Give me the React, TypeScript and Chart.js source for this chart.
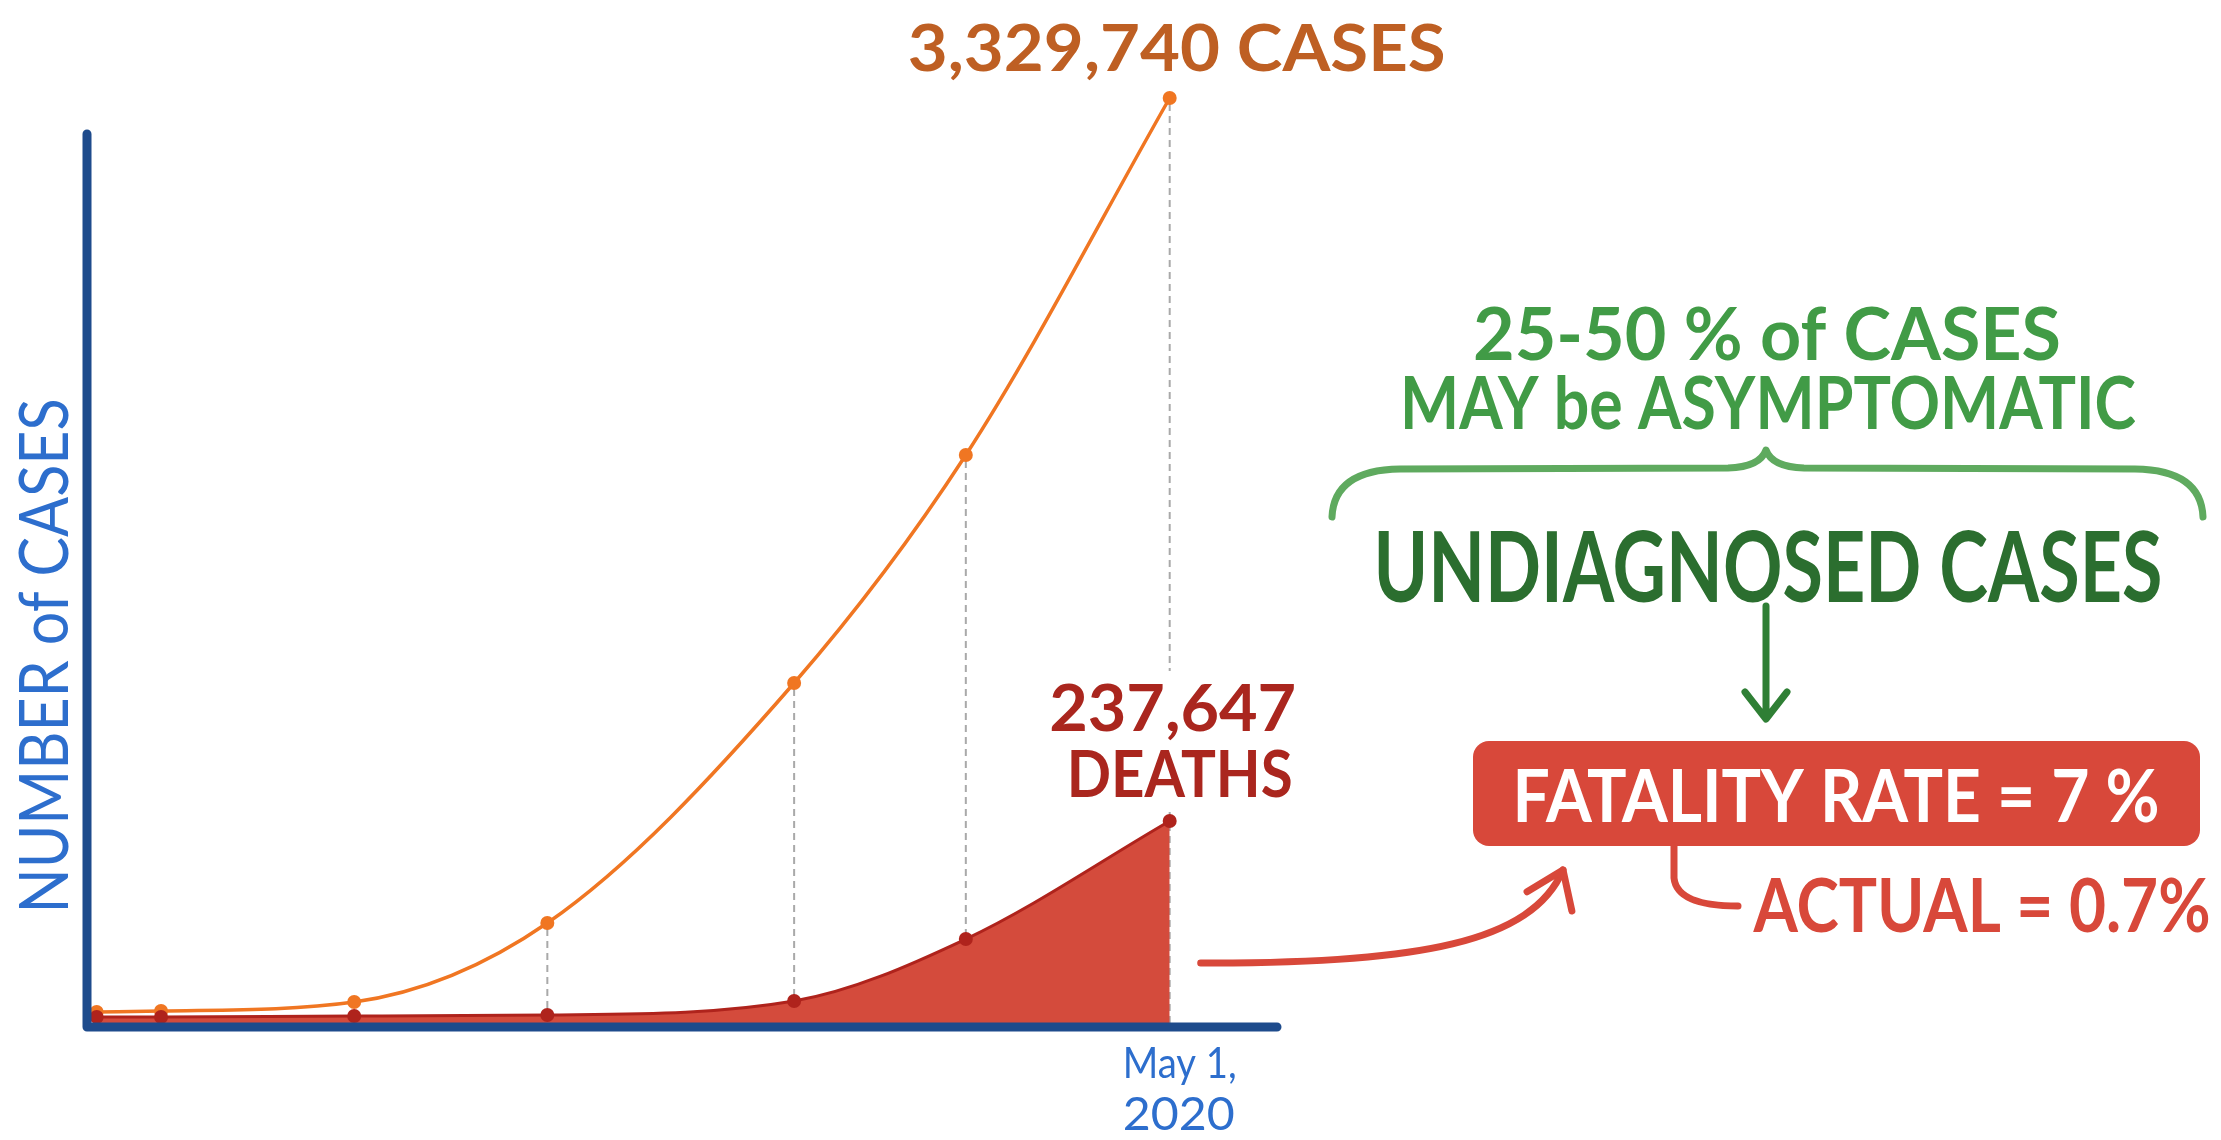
import { useEffect, useRef } from "react";
import { Chart, registerables } from "chart.js";

Chart.register(...registerables);

// ---- data ----
const dayIndex = [0, 6, 24, 42, 65, 81, 100];
const casesValues = [39600, 43200, 75600, 360000, 1223900, 2044600, 3329740];
const deathsValues = [7060, 7060, 8240, 9410, 25900, 98800, 237647];
const xTickValues = [100];
const xTickLabels: Record<number, string[]> = { 100: ["May 1,", "2020"] };
const casesLabel = "3,329,740 CASES";
const deathsLabelLines = ["237,647", "DEATHS"];
const yAxisTitle = "NUMBER of CASES";
const noteLines = ["25-50 % of CASES", "MAY be ASYMPTOMATIC"];
const undiagnosedText = "UNDIAGNOSED CASES";
const fatalityText = "FATALITY RATE = 7 %";
const actualText = "ACTUAL = 0.7%";
const casesMax = 3329740;
const deathsAxisMax = 1088240;
const xMin = -0.9;
const xMax = 110;

const W = 2221;
const H = 1140;
const FONT = "Lato";

const C = {
  axis: "#1e4b8c",
  orange: "#f07622",
  orangeLabel: "#be5f23",
  fill: "#d44b3c",
  redLine: "#af231c",
  redLabel: "#aa261e",
  box: "#d8483a",
  green: "#419b46",
  darkGreen: "#2b6e2f",
  brace: "#5faa5f",
  arrowGreen: "#2f7f35",
  blue: "#2d6ecd",
  dash: "#a9a9a9",
};

function drawFitted(
  ctx: CanvasRenderingContext2D,
  text: string,
  cx: number,
  baseline: number,
  capH: number,
  width: number,
  weight: number,
  color: string,
  rotate = 0
) {
  const size = capH / 0.716;
  ctx.save();
  ctx.font = `${weight} ${size}px ${FONT}`;
  const w = ctx.measureText(text).width;
  const sx = width / w;
  ctx.translate(cx, baseline);
  if (rotate) ctx.rotate(rotate);
  ctx.scale(sx, 1);
  ctx.fillStyle = color;
  ctx.textAlign = "center";
  ctx.textBaseline = "alphabetic";
  ctx.fillText(text, 0, 0);
  ctx.restore();
}

const guidePlugin = {
  id: "guides",
  beforeDatasetsDraw(chart: any) {
    const { ctx } = chart;
    const xs = chart.scales.x;
    const ys = chart.scales.y;
    ctx.save();
    ctx.strokeStyle = C.dash;
    ctx.lineWidth = 2;
    ctx.setLineDash([7, 5]);
    for (let i = 3; i < dayIndex.length; i++) {
      const x = xs.getPixelForValue(dayIndex[i]);
      ctx.beginPath();
      ctx.moveTo(x, ys.getPixelForValue(casesValues[i]) + 6);
      ctx.lineTo(x, ys.getPixelForValue(0));
      ctx.stroke();
    }
    ctx.restore();
  },
  afterDatasetsDraw(chart: any) {
    const { ctx, chartArea } = chart;
    const xs = chart.scales.x;
    const ys = chart.scales.y;
    const y2 = chart.scales.y2;
    const last = dayIndex.length - 1;
    const lx = xs.getPixelForValue(dayIndex[last]);
    const topY = ys.getPixelForValue(casesValues[last]);
    const deathY = y2.getPixelForValue(deathsValues[last]);

    // axes
    ctx.save();
    ctx.strokeStyle = C.axis;
    ctx.lineWidth = 9;
    ctx.lineCap = "round";
    ctx.lineJoin = "round";
    ctx.beginPath();
    ctx.moveTo(chartArea.left, 134);
    ctx.lineTo(chartArea.left, chartArea.bottom + 4);
    ctx.lineTo(chartArea.right, chartArea.bottom + 4);
    ctx.stroke();
    ctx.restore();

    // x tick labels (positioned by the x scale)
    xTickValues.forEach((v) => {
      const px = xs.getPixelForValue(v);
      const lines = xTickLabels[v];
      drawFitted(ctx, lines[0], px + 10, chartArea.bottom + 55, 31, 114, 400, C.blue);
      drawFitted(ctx, lines[1], px + 9, chartArea.bottom + 107, 33, 112, 400, C.blue);
    });

    // y-axis title
    drawFitted(ctx, yAxisTitle, 68, 656, 49, 515, 400, C.blue, -Math.PI / 2);

    // cases label
    drawFitted(ctx, casesLabel, lx + 7, topY - 27, 47, 538, 700, C.orangeLabel);

    // deaths label with white backing
    ctx.save();
    ctx.fillStyle = "#ffffff";
    ctx.fillRect(lx - 128, deathY - 150, 262, 136);
    ctx.restore();
    drawFitted(ctx, deathsLabelLines[0], lx + 3, deathY - 90, 47, 247, 700, C.redLabel);
    drawFitted(ctx, deathsLabelLines[1], lx + 10, deathY - 24, 47, 226, 700, C.redLabel);

    // green notes
    drawFitted(ctx, noteLines[0], 1767, 360, 52, 588, 700, C.green);
    drawFitted(ctx, noteLines[1], 1768, 429, 52, 736, 700, C.green);

    // brace
    ctx.save();
    ctx.strokeStyle = C.brace;
    ctx.lineWidth = 7;
    ctx.lineCap = "round";
    ctx.lineJoin = "round";
    ctx.beginPath();
    ctx.moveTo(1332, 517);
    ctx.quadraticCurveTo(1334, 470, 1400, 469);
    ctx.lineTo(1728, 468);
    ctx.quadraticCurveTo(1760, 467, 1766, 450);
    ctx.quadraticCurveTo(1772, 467, 1804, 468);
    ctx.lineTo(2135, 469);
    ctx.quadraticCurveTo(2201, 470, 2203, 517);
    ctx.stroke();
    ctx.restore();

    drawFitted(ctx, undiagnosedText, 1768, 602, 70, 789, 700, C.darkGreen);

    // green arrow
    ctx.save();
    ctx.strokeStyle = C.arrowGreen;
    ctx.lineWidth = 7;
    ctx.lineCap = "round";
    ctx.lineJoin = "round";
    ctx.beginPath();
    ctx.moveTo(1766, 606);
    ctx.lineTo(1766, 718);
    ctx.moveTo(1745, 692);
    ctx.lineTo(1766, 719);
    ctx.lineTo(1787, 692);
    ctx.stroke();
    ctx.restore();

    // red box
    ctx.save();
    ctx.fillStyle = C.box;
    ctx.beginPath();
    (ctx as any).roundRect(1473, 741, 727, 105, 16);
    ctx.fill();
    ctx.restore();
    drawFitted(ctx, fatalityText, 1836, 822, 52, 647, 700, "#ffffff");

    // connector to actual
    ctx.save();
    ctx.strokeStyle = C.box;
    ctx.lineWidth = 7;
    ctx.lineCap = "round";
    ctx.beginPath();
    ctx.moveTo(1674, 846);
    ctx.lineTo(1674, 878);
    ctx.quadraticCurveTo(1677, 906, 1738, 906);
    ctx.stroke();
    ctx.restore();
    drawFitted(ctx, actualText, 1982, 932, 53, 457, 700, C.box);

    // red curved arrow from the chart
    ctx.save();
    ctx.strokeStyle = C.box;
    ctx.lineWidth = 7;
    ctx.lineCap = "round";
    ctx.lineJoin = "round";
    const sx0 = lx + 31, sy0 = 963;
    const p1 = [1420, 964], p2 = [1532, 942], p3 = [1563, 870];
    ctx.beginPath();
    ctx.moveTo(sx0, sy0);
    ctx.bezierCurveTo(p1[0], p1[1], p2[0], p2[1], p3[0], p3[1]);
    ctx.stroke();
    const ang = Math.atan2(p3[1] - p2[1], p3[0] - p2[0]);
    const L = 42;
    const spread = 0.62;
    ctx.beginPath();
    ctx.moveTo(p3[0] - L * Math.cos(ang - spread), p3[1] - L * Math.sin(ang - spread));
    ctx.lineTo(p3[0], p3[1]);
    ctx.lineTo(p3[0] - L * Math.cos(ang + spread), p3[1] - L * Math.sin(ang + spread));
    ctx.stroke();
    ctx.restore();
  },
};

export default function App() {
  const ref = useRef<HTMLCanvasElement>(null);
  useEffect(() => {
    if (!ref.current) return;
    const chart = new Chart(ref.current, {
      type: "line",
      data: {
        datasets: [
          {
            label: "Deaths",
            data: dayIndex.map((d, i) => ({ x: d, y: deathsValues[i] })),
            yAxisID: "y2",
            borderColor: C.redLine,
            backgroundColor: C.fill,
            fill: "origin",
            borderWidth: 3,
            pointRadius: 7,
            pointBackgroundColor: C.redLine,
            pointBorderWidth: 0,
            cubicInterpolationMode: "monotone",
            clip: false as any,
          },
          {
            label: "Cases",
            data: dayIndex.map((d, i) => ({ x: d, y: casesValues[i] })),
            yAxisID: "y",
            borderColor: C.orange,
            backgroundColor: C.orange,
            fill: false,
            borderWidth: 3.5,
            pointRadius: 7,
            pointBackgroundColor: C.orange,
            pointBorderWidth: 0,
            cubicInterpolationMode: "monotone",
            clip: false as any,
          },
        ],
      },
      options: {
        animation: false,
        responsive: false,
        devicePixelRatio: 1,
        layout: { padding: { left: 87, right: W - 1277, top: 98, bottom: H - 1023 } },
        plugins: { legend: { display: false }, tooltip: { enabled: false } },
        events: [],
        scales: {
          x: { type: "linear", display: false, min: xMin, max: xMax },
          y: { type: "linear", display: false, min: 0, max: casesMax },
          y2: { type: "linear", display: false, min: 0, max: deathsAxisMax },
        },
      },
      plugins: [guidePlugin],
    });
    return () => chart.destroy();
  }, []);
  return (
    <div style={{ position: "absolute", left: 0, top: 0, width: W, height: H, background: "#fff" }}>
      <canvas ref={ref} width={W} height={H} style={{ width: W, height: H, display: "block" }} />
    </div>
  );
}
